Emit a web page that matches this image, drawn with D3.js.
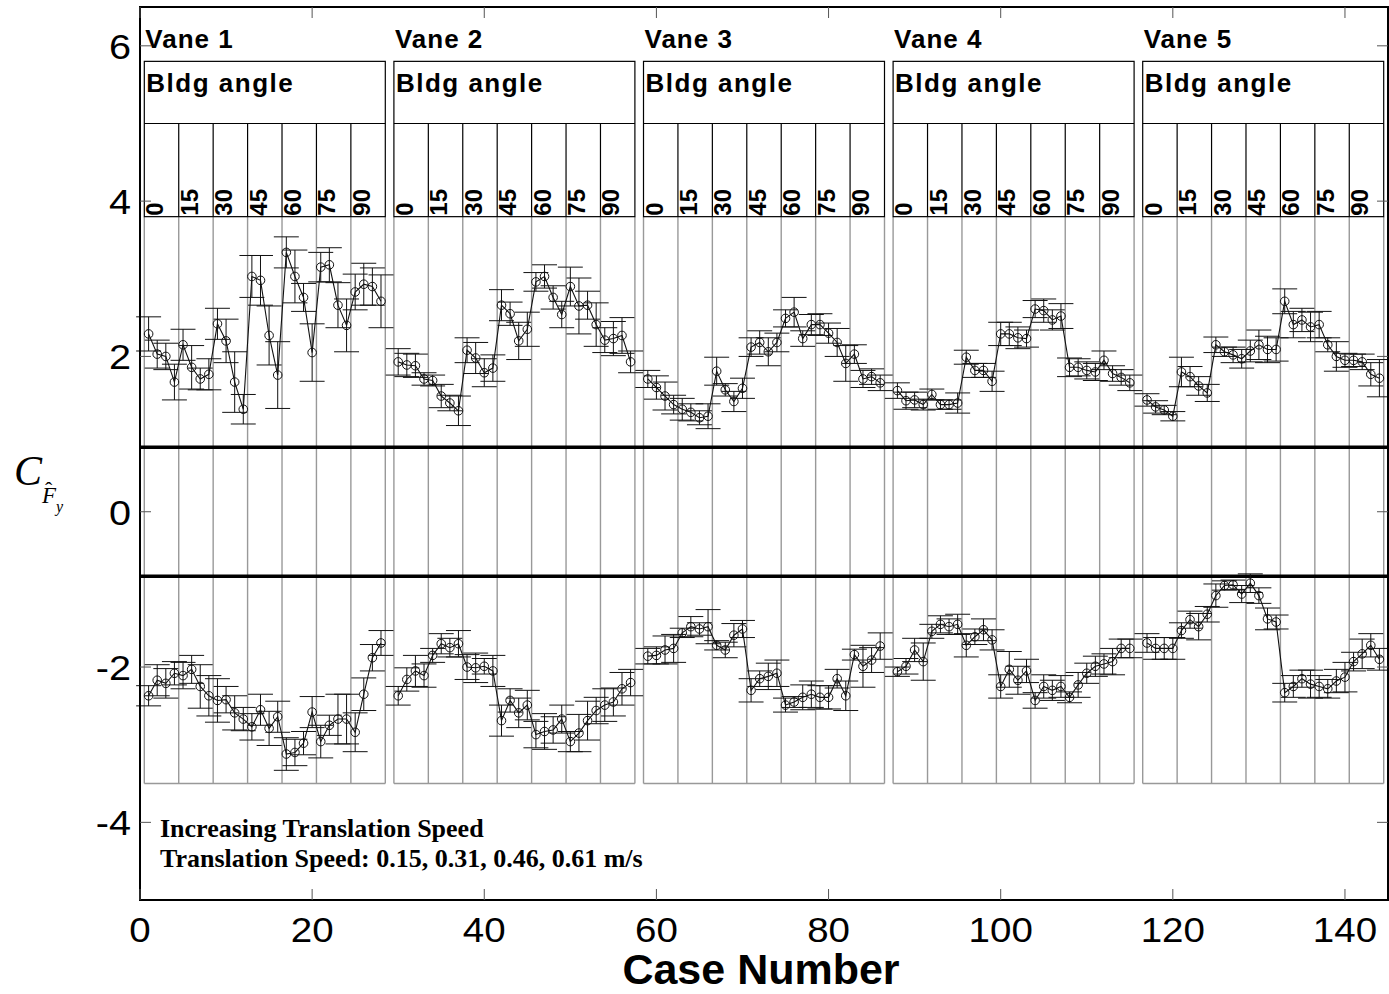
<!DOCTYPE html>
<html lang="en">
<head>
<meta charset="UTF-8" />
<title>Force coefficient by case number</title>
<script src="https://d3js.org/d3.v7.min.js"></script>
<style>
  body { margin: 0; background: #fff; }
  svg { display: block; font-family: "Liberation Sans", Arial, sans-serif; }
</style>
</head>
<body>
<svg id="chart" width="1389" height="994"></svg>
<script>
const vanes = ["Vane 1", "Vane 2", "Vane 3", "Vane 4", "Vane 5"];
const angles = ["0", "15", "30", "45", "60", "75", "90"];
const xTicks = [0, 20, 40, 60, 80, 100, 120, 140];
const yTicks = [-4, -2, 0, 2, 4, 6];

// upper branch (positive C), 28 cases per vane
const upperV1 = [2.29, 2.03, 2.00, 1.67, 2.15, 1.86, 1.71, 1.77, 2.42, 2.20, 1.67, 1.32, 3.03, 2.98, 2.27, 1.76, 3.34, 3.03, 2.76, 2.05, 3.15, 3.18, 2.66, 2.40, 2.83, 2.93, 2.90, 2.71];
const upperV2 = [1.93, 1.89, 1.88, 1.71, 1.69, 1.49, 1.40, 1.30, 2.08, 1.98, 1.79, 1.85, 2.66, 2.55, 2.20, 2.35, 2.96, 3.03, 2.76, 2.54, 2.90, 2.65, 2.66, 2.41, 2.21, 2.23, 2.27, 1.93];
const upperV3 = [1.71, 1.60, 1.49, 1.38, 1.32, 1.28, 1.21, 1.23, 1.81, 1.57, 1.42, 1.59, 2.12, 2.18, 2.06, 2.18, 2.49, 2.57, 2.23, 2.41, 2.41, 2.30, 2.18, 1.91, 2.03, 1.71, 1.74, 1.66];
const upperV4 = [1.56, 1.43, 1.44, 1.38, 1.51, 1.38, 1.38, 1.40, 1.99, 1.82, 1.82, 1.68, 2.29, 2.29, 2.24, 2.23, 2.61, 2.59, 2.47, 2.52, 1.86, 1.86, 1.82, 1.80, 1.95, 1.78, 1.73, 1.66];
const upperV5 = [1.44, 1.35, 1.31, 1.23, 1.80, 1.74, 1.62, 1.53, 2.15, 2.06, 2.02, 1.97, 2.07, 2.15, 2.09, 2.09, 2.71, 2.41, 2.47, 2.38, 2.41, 2.15, 2.00, 1.95, 1.95, 1.93, 1.77, 1.72];

const upperErrV1 = [0.22, 0.18, 0.17, 0.23, 0.20, 0.28, 0.14, 0.20, 0.20, 0.28, 0.39, 0.19, 0.27, 0.32, 0.38, 0.43, 0.20, 0.34, 0.18, 0.37, 0.19, 0.22, 0.29, 0.34, 0.23, 0.27, 0.24, 0.34];
const upperErrV2 = [0.17, 0.15, 0.15, 0.08, 0.07, 0.15, 0.10, 0.19, 0.16, 0.20, 0.18, 0.17, 0.20, 0.15, 0.24, 0.22, 0.12, 0.15, 0.15, 0.17, 0.25, 0.36, 0.18, 0.28, 0.16, 0.22, 0.23, 0.14];
const upperErrV3 = [0.11, 0.15, 0.18, 0.12, 0.14, 0.11, 0.09, 0.16, 0.18, 0.08, 0.13, 0.13, 0.12, 0.15, 0.18, 0.12, 0.11, 0.19, 0.10, 0.13, 0.14, 0.13, 0.18, 0.23, 0.12, 0.11, 0.10, 0.10];
const upperErrV4 = [0.10, 0.11, 0.10, 0.07, 0.07, 0.06, 0.06, 0.13, 0.09, 0.09, 0.09, 0.13, 0.15, 0.15, 0.14, 0.11, 0.11, 0.15, 0.13, 0.16, 0.12, 0.11, 0.11, 0.11, 0.12, 0.10, 0.10, 0.10];
const upperErrV5 = [0.08, 0.08, 0.06, 0.06, 0.19, 0.13, 0.12, 0.11, 0.10, 0.06, 0.10, 0.12, 0.14, 0.19, 0.17, 0.15, 0.16, 0.17, 0.15, 0.19, 0.17, 0.09, 0.19, 0.09, 0.08, 0.10, 0.15, 0.24];

// lower branch (negative C)
const lowerV1 = [-2.37, -2.17, -2.21, -2.08, -2.11, -2.03, -2.25, -2.37, -2.43, -2.42, -2.59, -2.67, -2.77, -2.55, -2.79, -2.64, -3.12, -3.10, -2.98, -2.58, -2.96, -2.75, -2.67, -2.67, -2.84, -2.35, -1.88, -1.69];
const lowerV2 = [-2.37, -2.16, -2.05, -2.11, -1.85, -1.70, -1.75, -1.70, -2.00, -2.01, -1.99, -2.05, -2.69, -2.43, -2.59, -2.49, -2.87, -2.83, -2.81, -2.67, -2.96, -2.85, -2.69, -2.56, -2.49, -2.45, -2.28, -2.20];
const lowerV3 = [-1.86, -1.85, -1.78, -1.76, -1.56, -1.48, -1.51, -1.48, -1.72, -1.78, -1.59, -1.51, -2.30, -2.15, -2.12, -2.08, -2.49, -2.45, -2.39, -2.35, -2.39, -2.39, -2.15, -2.37, -1.84, -1.99, -1.91, -1.73];
const lowerV4 = [-2.06, -1.99, -1.78, -1.93, -1.54, -1.45, -1.48, -1.45, -1.72, -1.61, -1.52, -1.65, -2.25, -2.03, -2.17, -2.05, -2.43, -2.25, -2.30, -2.25, -2.39, -2.23, -2.08, -1.99, -1.96, -1.93, -1.76, -1.76];
const lowerV5 = [-1.69, -1.76, -1.76, -1.76, -1.53, -1.39, -1.48, -1.32, -1.08, -0.95, -0.94, -1.06, -0.92, -1.08, -1.38, -1.42, -2.33, -2.25, -2.15, -2.22, -2.25, -2.28, -2.18, -2.13, -1.93, -1.83, -1.72, -1.90];

const lowerErrV1 = [0.13, 0.20, 0.19, 0.15, 0.17, 0.18, 0.28, 0.26, 0.28, 0.17, 0.22, 0.15, 0.17, 0.20, 0.22, 0.20, 0.21, 0.17, 0.15, 0.20, 0.21, 0.13, 0.32, 0.32, 0.25, 0.21, 0.17, 0.16];
const lowerErrV2 = [0.12, 0.15, 0.20, 0.15, 0.09, 0.13, 0.12, 0.17, 0.16, 0.19, 0.10, 0.20, 0.20, 0.15, 0.19, 0.19, 0.17, 0.23, 0.17, 0.18, 0.13, 0.24, 0.25, 0.17, 0.21, 0.18, 0.21, 0.17];
const lowerErrV3 = [0.10, 0.11, 0.18, 0.18, 0.06, 0.13, 0.08, 0.22, 0.06, 0.10, 0.15, 0.11, 0.15, 0.10, 0.17, 0.17, 0.09, 0.07, 0.16, 0.17, 0.15, 0.15, 0.12, 0.19, 0.07, 0.27, 0.16, 0.17];
const lowerErrV4 = [0.06, 0.10, 0.15, 0.24, 0.09, 0.11, 0.10, 0.13, 0.15, 0.10, 0.14, 0.13, 0.15, 0.23, 0.18, 0.15, 0.10, 0.15, 0.13, 0.14, 0.07, 0.16, 0.13, 0.13, 0.13, 0.17, 0.12, 0.12];
const lowerErrV5 = [0.12, 0.14, 0.14, 0.14, 0.10, 0.11, 0.17, 0.10, 0.15, 0.06, 0.06, 0.11, 0.12, 0.10, 0.14, 0.09, 0.12, 0.14, 0.11, 0.18, 0.14, 0.12, 0.15, 0.19, 0.12, 0.19, 0.15, 0.14];

const upperMeans = [upperV1, upperV2, upperV3, upperV4, upperV5];
const upperErrs = [upperErrV1, upperErrV2, upperErrV3, upperErrV4, upperErrV5];
const lowerMeans = [lowerV1, lowerV2, lowerV3, lowerV4, lowerV5];
const lowerErrs = [lowerErrV1, lowerErrV2, lowerErrV3, lowerErrV4, lowerErrV5];

const svg = d3.select("#chart");
const x = d3.scaleLinear().domain([0, 145]).range([140, 1388]);
const y = d3.scaleLinear().domain([-5, 6.5]).range([900, 7]);

const vaneStep = 29;   // 28 cases + one gap
const capHalf = 1.45;  // error bar cap half width, in case units

// vane boxes + angle groups
const boxes = svg.append("g");
vanes.forEach((name, v) => {
  const x0 = v * vaneStep + 0.5;
  const edges = d3.range(8).map(k => x0 + 4 * k);

  boxes.selectAll(null).data(edges).join("line")
    .attr("x1", d => x(d)).attr("x2", d => x(d))
    .attr("y1", y(3.8)).attr("y2", y(-3.5))
    .attr("stroke", "#999").attr("stroke-width", 1.4);
  boxes.append("line")
    .attr("x1", x(x0)).attr("x2", x(x0 + 28))
    .attr("y1", y(-3.5)).attr("y2", y(-3.5))
    .attr("stroke", "#999").attr("stroke-width", 1.4);

  boxes.append("rect")
    .attr("x", x(x0)).attr("y", y(5.8))
    .attr("width", x(x0 + 28) - x(x0)).attr("height", y(3.8) - y(5.8))
    .attr("fill", "none").attr("stroke", "#000").attr("stroke-width", 1.2);
  boxes.append("line")
    .attr("x1", x(x0)).attr("x2", x(x0 + 28))
    .attr("y1", y(5.0)).attr("y2", y(5.0))
    .attr("stroke", "#000").attr("stroke-width", 1.2);
  boxes.selectAll(null).data(edges.slice(1, 7)).join("line")
    .attr("x1", d => x(d)).attr("x2", d => x(d))
    .attr("y1", y(5.0)).attr("y2", y(3.8))
    .attr("stroke", "#000").attr("stroke-width", 1.2);

  boxes.append("text")
    .attr("x", x(x0) + 1).attr("y", 48)
    .attr("font-size", 26).attr("font-weight", "bold").attr("letter-spacing", 1)
    .text(name);
  boxes.append("text")
    .attr("x", x(x0) + 2).attr("y", 92)
    .attr("font-size", 26).attr("font-weight", "bold").attr("letter-spacing", 1.5)
    .text("Bldg angle");

  boxes.selectAll(null).data(angles).join("text")
    .attr("transform", (d, k) => `translate(${x(edges[k]) + 19},${y(3.8) - 1}) rotate(-90)`)
    .attr("font-size", 24).attr("font-weight", "bold")
    .text(d => d);
});

// thick separators
svg.selectAll(null).data([0.83, -0.83]).join("line")
  .attr("x1", x(0)).attr("x2", x(145))
  .attr("y1", d => y(d)).attr("y2", d => y(d))
  .attr("stroke", "#000").attr("stroke-width", 3.5);

// series
const line = d3.line().x(d => x(d.c)).y(d => y(d.m));
function drawBranch(means, errs) {
  means.forEach((vals, v) => {
    const pts = vals.map((m, j) => ({ c: v * vaneStep + j + 1, m, e: errs[v][j] }));
    const g = svg.append("g").attr("stroke", "#111").attr("fill", "none");
    g.selectAll(".stem").data(pts).join("line")
      .attr("x1", d => x(d.c)).attr("x2", d => x(d.c))
      .attr("y1", d => y(d.m - d.e)).attr("y2", d => y(d.m + d.e))
      .attr("stroke-width", 1);
    g.selectAll(".capTop").data(pts).join("line")
      .attr("x1", d => x(d.c - capHalf)).attr("x2", d => x(d.c + capHalf))
      .attr("y1", d => y(d.m + d.e)).attr("y2", d => y(d.m + d.e))
      .attr("stroke-width", 1);
    g.selectAll(".capBot").data(pts).join("line")
      .attr("x1", d => x(d.c - capHalf)).attr("x2", d => x(d.c + capHalf))
      .attr("y1", d => y(d.m - d.e)).attr("y2", d => y(d.m - d.e))
      .attr("stroke-width", 1);
    g.append("path").datum(pts).attr("d", line).attr("stroke-width", 1.1);
    g.selectAll("circle").data(pts).join("circle")
      .attr("cx", d => x(d.c)).attr("cy", d => y(d.m)).attr("r", 4.3)
      .attr("stroke-width", 1);
  });
}
drawBranch(upperMeans, upperErrs);
drawBranch(lowerMeans, lowerErrs);

// frame and ticks
svg.append("rect")
  .attr("x", x(0)).attr("y", y(6.5))
  .attr("width", x(145) - x(0)).attr("height", y(-5) - y(6.5))
  .attr("fill", "none").attr("stroke", "#000").attr("stroke-width", 2);

const ticks = svg.append("g").attr("stroke", "#555").attr("stroke-width", 1);
yTicks.forEach(t => {
  ticks.append("line").attr("x1", x(0)).attr("x2", x(0) + 11).attr("y1", y(t)).attr("y2", y(t));
  ticks.append("line").attr("x1", x(145) - 11).attr("x2", x(145)).attr("y1", y(t)).attr("y2", y(t));
});
xTicks.forEach(t => {
  ticks.append("line").attr("x1", x(t)).attr("x2", x(t)).attr("y1", y(-5)).attr("y2", y(-5) - 11);
  ticks.append("line").attr("x1", x(t)).attr("x2", x(t)).attr("y1", y(6.5)).attr("y2", y(6.5) + 11);
});

svg.selectAll(".ylab").data(yTicks).join("text")
  .attr("transform", d => `translate(131,${y(d) + 13}) scale(1.1,1)`)
  .attr("text-anchor", "end").attr("font-size", 36)
  .text(d => d);
svg.selectAll(".xlab").data(xTicks).join("text")
  .attr("transform", d => `translate(${x(d)},942) scale(1.1,1)`)
  .attr("text-anchor", "middle").attr("font-size", 35)
  .text(d => d);

svg.append("text")
  .attr("x", (x(0) + x(145)) / 2 - 3).attr("y", 984)
  .attr("text-anchor", "middle").attr("font-size", 43).attr("font-weight", "bold")
  .text("Case Number");

// y label: C with F-hat sub y
const ylab = svg.append("g").attr("font-family", "'Liberation Serif', 'Times New Roman', serif").attr("font-style", "italic");
ylab.append("text").attr("x", 14).attr("y", 485).attr("font-size", 42).text("C");
ylab.append("text").attr("x", 42).attr("y", 503).attr("font-size", 23).text("F");
ylab.append("text").attr("x", 45).attr("y", 497).attr("font-size", 22).attr("font-style", "normal").text("\u02C6");
ylab.append("text").attr("x", 56).attr("y", 512).attr("font-size", 16).text("y");

// note
const note = svg.append("g")
  .attr("font-family", "'Liberation Serif', 'Times New Roman', serif")
  .attr("font-weight", "bold").attr("font-size", 26);
note.append("text").attr("x", 160).attr("y", 837).text("Increasing Translation Speed");
note.append("text").attr("x", 160).attr("y", 867).text("Translation Speed: 0.15, 0.31, 0.46, 0.61 m/s");
</script>
</body>
</html>
